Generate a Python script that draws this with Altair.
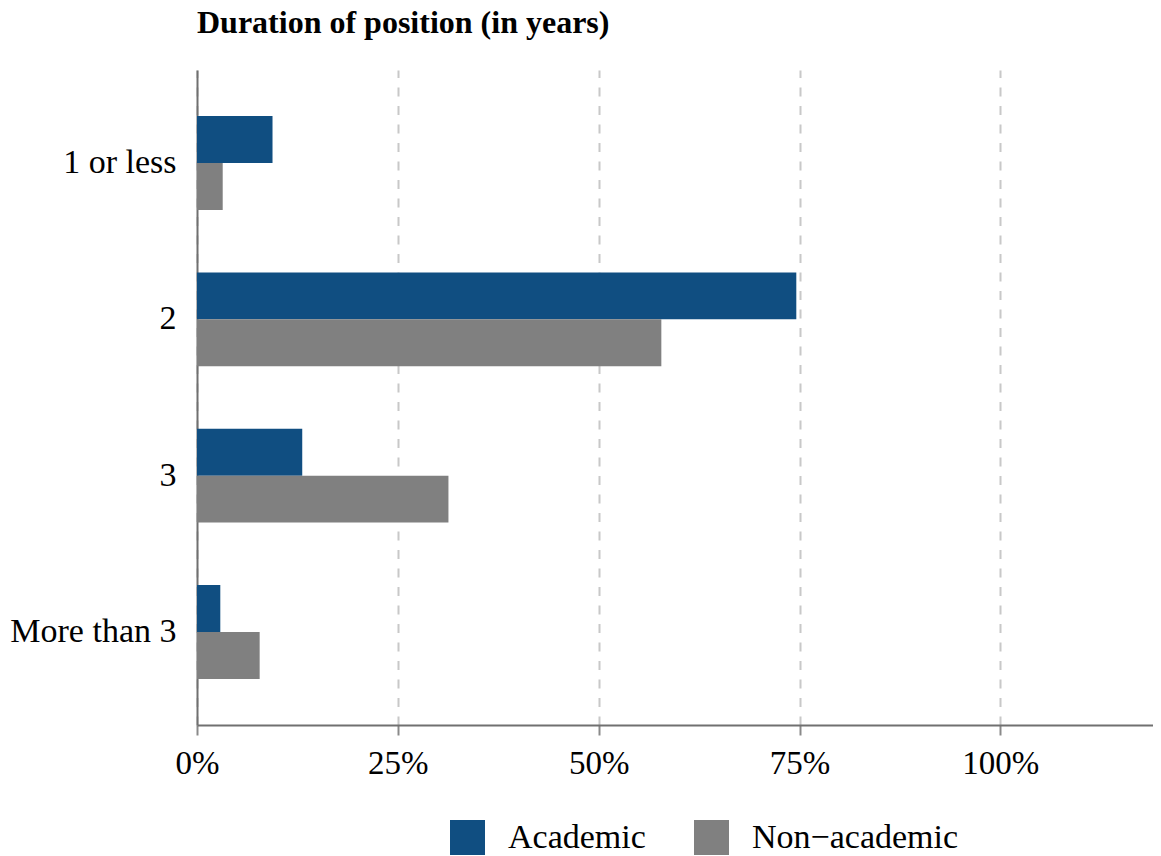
import altair as alt
import pandas as pd

categories = ["1 or less", "2", "3", "More than 3"]
groups = ["Academic", "Non\u2212academic"]
academic = [0.094, 0.746, 0.131, 0.029]
non_academic = [0.032, 0.578, 0.313, 0.078]
colors = ["#104E81", "#808080"]
tick_values = [0, 0.25, 0.5, 0.75, 1.0]

rows = []
for c, a, n in zip(categories, academic, non_academic):
    rows.append({"duration": c, "group": groups[0], "value": a})
    rows.append({"duration": c, "group": groups[1], "value": n})
df = pd.DataFrame(rows)

FONT = "Liberation Serif"

chart = alt.Chart(df).mark_bar().encode(
    y=alt.Y(
        "duration:N",
        sort=categories,
        scale=alt.Scale(paddingInner=0.4, paddingOuter=0.295),
        axis=alt.Axis(
            title=None, ticks=False, grid=False, labelFontSize=34,
            labelPadding=21, labelColor="black", labelFont=FONT,
            domainColor="#707070", domainWidth=2,
        ),
    ),
    yOffset=alt.YOffset("group:N", sort=groups),
    x=alt.X(
        "value:Q",
        scale=alt.Scale(domain=[0, 1.19], nice=False, zero=True),
        axis=alt.Axis(
            title=None, values=tick_values, format=".0%", labelFontSize=33,
            labelColor="black", labelFont=FONT, labelPadding=12,
            tickSize=10, tickColor="#8a8a8a", tickWidth=2,
            domainColor="#707070", domainWidth=2,
            grid=True, gridColor="#c8c8c8", gridWidth=2, gridDash=[9, 9.5],
            labelFlush=False,
        ),
    ),
    color=alt.Color(
        "group:N",
        sort=groups,
        scale=alt.Scale(domain=groups, range=colors),
        legend=alt.Legend(
            title=None, orient="none", direction="horizontal",
            legendX=253, legendY=750,
            symbolType="square", symbolSize=1225, symbolStrokeWidth=0,
            symbolOpacity=1,
            labelFontSize=34, labelFont=FONT, labelColor="black",
            labelOffset=23, columnPadding=48, labelLimit=400,
        ),
    ),
).properties(
    width=956,
    height=655,
    title=alt.TitleParams(
        "Duration of position (in years)", anchor="start", frame="group",
        fontSize=32, font=FONT, fontWeight="bold", color="black", offset=30,
    ),
    autosize=alt.AutoSizeParams(type="none"),
    padding={"left": 189, "top": 62, "right": 0, "bottom": 131},
).configure_view(stroke=None)

chart.save("out.html", embed_options={"renderer": "svg", "actions": False})
